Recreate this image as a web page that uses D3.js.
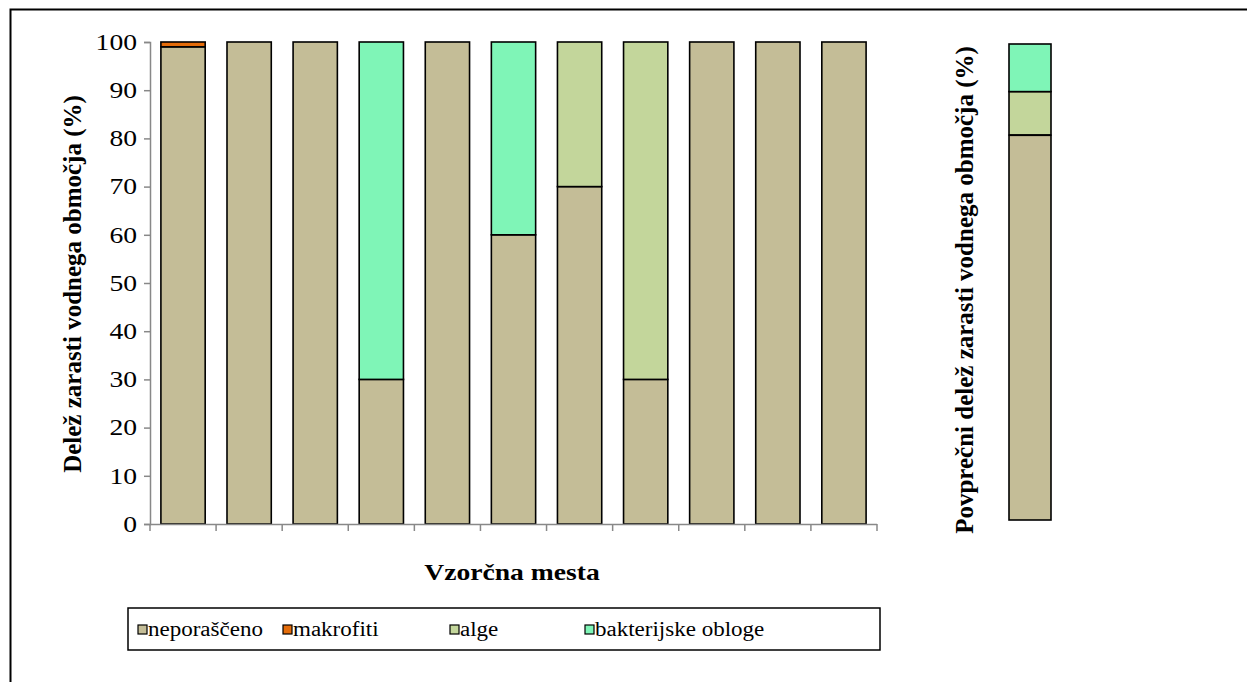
<!DOCTYPE html>
<html>
<head>
<meta charset="utf-8">
<script src="https://cdn.jsdelivr.net/npm/d3@7"></script>
<style>
  body { margin: 0; background: #fff; }
</style>
</head>
<body>
<svg id="chart" width="1247" height="682"></svg>
<script>
// Data
const sites = ['1', '2', '3', '4', '5', '6', '7', '8', '9', '10', '11'];
const seriesNames = ['neporaščeno', 'makrofiti', 'alge', 'bakterijske obloge'];
const seriesColors = ['#C4BD97', '#E46C0A', '#C3D69B', '#7FF5B7'];
const neporasceno = [99, 100, 100, 30, 100, 60, 70, 30, 100, 100, 100];
const makrofiti   = [1, 0, 0, 0, 0, 0, 0, 0, 0, 0, 0];
const alge        = [0, 0, 0, 0, 0, 0, 30, 70, 0, 0, 0];
const bakterije   = [0, 0, 0, 70, 0, 40, 0, 0, 0, 0, 0];
const yTicks = [0, 10, 20, 30, 40, 50, 60, 70, 80, 90, 100];

const FONT = '"Liberation Serif"';

// the original picture is a bit wider than tall, so horizontal text is stretched
function stretch(sel, k) {
    sel.each(function () {
        const w = this.getComputedTextLength();
        d3.select(this).attr('textLength', w * k).attr('lengthAdjust', 'spacingAndGlyphs');
    });
}

// average bar (mean over all sites)
const mean = arr => d3.mean(arr);
const averages = [mean(neporasceno), mean(makrofiti), mean(alge), mean(bakterije)];

const svg = d3.select('#chart');

// outer frame (only top and left edges are visible in the picture)
svg.append('path')
    .attr('d', 'M10.5,682 L10.5,9.5 L1247,9.5')
    .attr('fill', 'none')
    .attr('stroke', '#000')
    .attr('stroke-width', 2);

// ---- main stacked chart ----
const x = d3.scaleBand().domain(sites).range([150, 877]).paddingInner(0.33).paddingOuter(0.165);
const y = d3.scaleLinear().domain([0, 100]).range([524, 42]);

const rows = sites.map((s, i) => ({
    site: s,
    'neporaščeno': neporasceno[i],
    'makrofiti': makrofiti[i],
    'alge': alge[i],
    'bakterijske obloge': bakterije[i]
}));
const stacked = d3.stack().keys(seriesNames)(rows);

const layers = svg.append('g').selectAll('g')
    .data(stacked)
    .enter()
    .append('g')
    .attr('fill', (d, i) => seriesColors[i]);

layers.selectAll('rect')
    .data(d => d.filter(p => p[1] - p[0] > 0))
    .enter()
    .append('rect')
    .attr('x', d => x(d.data.site))
    .attr('width', x.bandwidth())
    .attr('y', d => y(d[1]))
    .attr('height', d => y(d[0]) - y(d[1]))
    .attr('stroke', '#000')
    .attr('stroke-width', 1.6);

// y axis
const yAxis = svg.append('g')
    .attr('transform', 'translate(150,0)')
    .call(d3.axisLeft(y).tickValues(yTicks).tickSize(6).tickPadding(7));
yAxis.attr('font-family', FONT).attr('font-size', 23);
yAxis.select('.domain').attr('stroke', '#888').attr('stroke-width', 1.5);
yAxis.selectAll('.tick line').attr('stroke', '#888').attr('stroke-width', 1.5);
yAxis.selectAll('.tick text').attr('fill', '#000');
stretch(yAxis.selectAll('.tick text'), 1.2);

// x axis: ticks on category boundaries, no labels
const boundaries = d3.range(sites.length + 1).map(i => 150 + i * (877 - 150) / sites.length);
const xAxis = svg.append('g');
xAxis.append('line')
    .attr('x1', 150).attr('x2', 877)
    .attr('y1', 524.5).attr('y2', 524.5)
    .attr('stroke', '#888').attr('stroke-width', 1.5);
xAxis.selectAll('line.tk')
    .data(boundaries)
    .enter()
    .append('line')
    .attr('class', 'tk')
    .attr('x1', d => d).attr('x2', d => d)
    .attr('y1', 524).attr('y2', 531)
    .attr('stroke', '#888').attr('stroke-width', 1.5);

// axis titles
svg.append('text')
    .attr('transform', 'translate(81,284) rotate(-90)')
    .attr('text-anchor', 'middle')
    .attr('font-family', FONT)
    .attr('font-size', 25)
    .attr('font-weight', 'bold')
    .text('Delež zarasti vodnega območja (%)');

const xTitle = svg.append('text')
    .attr('x', 512)
    .attr('y', 580)
    .attr('text-anchor', 'middle')
    .attr('font-family', FONT)
    .attr('font-size', 23)
    .attr('font-weight', 'bold')
    .text('Vzorčna mesta');
stretch(xTitle, 1.2);

// ---- average bar ----
const y2 = d3.scaleLinear().domain([0, 100]).range([520, 44]);
const avgRow = { site: 'avg' };
seriesNames.forEach((n, i) => avgRow[n] = averages[i]);
const avgStack = d3.stack().keys(seriesNames)([avgRow]);

svg.append('g').selectAll('rect')
    .data(avgStack.map((s, i) => ({ seg: s[0], color: seriesColors[i] })).filter(d => d.seg[1] - d.seg[0] > 0.5))
    .enter()
    .append('rect')
    .attr('x', 1009)
    .attr('width', 42)
    .attr('y', d => y2(d.seg[1]))
    .attr('height', d => y2(d.seg[0]) - y2(d.seg[1]))
    .attr('fill', d => d.color)
    .attr('stroke', '#000')
    .attr('stroke-width', 1.6);

svg.append('text')
    .attr('transform', 'translate(973,290) rotate(-90)')
    .attr('text-anchor', 'middle')
    .attr('font-family', FONT)
    .attr('font-size', 25)
    .attr('font-weight', 'bold')
    .text('Povprečni delež zarasti vodnega območja (%)');

// ---- legend ----
const legend = svg.append('g').attr('transform', 'translate(128,608)');
legend.append('rect')
    .attr('width', 752)
    .attr('height', 42)
    .attr('fill', 'none')
    .attr('stroke', '#000')
    .attr('stroke-width', 1.5);

const legendX = [10, 155, 322, 457];
const items = legend.selectAll('g.item')
    .data(seriesNames)
    .enter()
    .append('g')
    .attr('class', 'item')
    .attr('transform', (d, i) => `translate(${legendX[i]},21)`);

items.append('rect')
    .attr('x', 0).attr('y', -4)
    .attr('width', 9).attr('height', 9)
    .attr('fill', (d, i) => seriesColors[i])
    .attr('stroke', '#000')
    .attr('stroke-width', 1.2);

const legendText = items.append('text')
    .attr('x', 10)
    .attr('y', 7)
    .attr('font-family', FONT)
    .attr('font-size', 20)
    .text(d => d);
stretch(legendText, 1.15);
</script>
</body>
</html>
